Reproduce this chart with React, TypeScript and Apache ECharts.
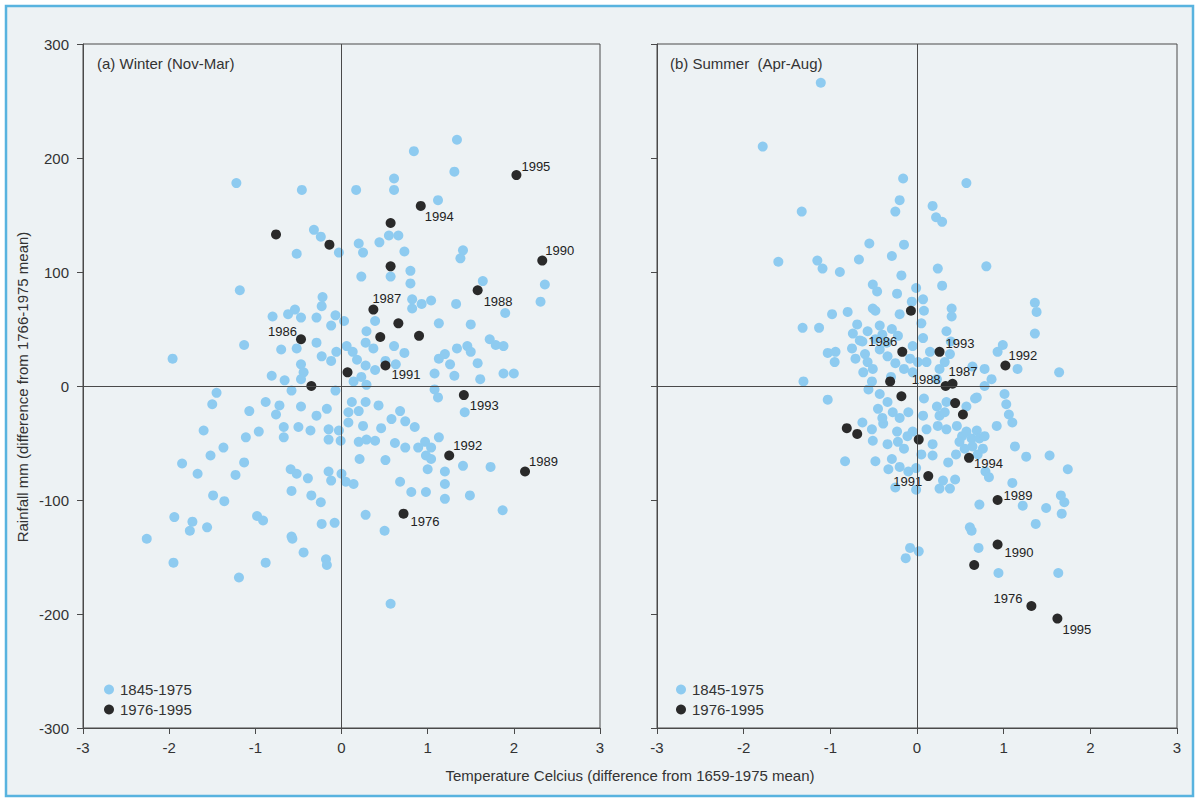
import React, { useEffect, useRef } from "react";
import * as echarts from "echarts";

// ---------- DATA ----------
const TEMP_RANGE: [number, number] = [-3, 3];
const RAIN_RANGE: [number, number] = [-300, 300];

const WINTER_1845_1975: [number, number][] = [
  [1.34, 216], [0.84, 206], [1.31, 188], [-1.22, 178], [-0.46, 172], [0.17, 172], [0.61, 182], [0.61, 172], [1.12, 163],
  [-0.32, 137], [-0.24, 131], [-0.03, 117], [-0.52, 116], [0.2, 125], [0.25, 117], [0.44, 126], [0.55, 132], [0.66, 132], [0.73, 118], [1.41, 119], [1.38, 112],
  [0.23, 96], [0.57, 96], [0.8, 101], [0.8, 90], [-1.18, 84], [-0.22, 78], [-0.23, 70], [-0.8, 61], [-0.62, 63], [-0.54, 67], [-0.47, 60], [-0.29, 60], [-0.07, 62], [0.03, 57], [-0.12, 53], [0.39, 57], [0.29, 48],
  [0.82, 76], [0.93, 72], [1.04, 75], [0.82, 68], [1.13, 55], [1.33, 72], [1.5, 54],
  [-1.13, 36], [-1.96, 24], [-0.7, 32], [-0.52, 33], [-0.29, 38], [-0.23, 26], [-0.12, 22], [-0.06, 30], [0.06, 35], [0.13, 30], [0.28, 38], [0.37, 33], [0.18, 23], [0.28, 18], [0.39, 14], [0.51, 22], [0.61, 35], [0.73, 29], [0.63, 19],
  [-0.47, 19], [-0.44, 12], [-0.81, 9], [-0.66, 5], [-0.47, 6], [0.14, 4], [0.23, 8], [0.29, 1],
  [1.13, 24], [1.2, 28], [1.26, 19], [1.34, 33], [1.08, 11], [1.31, 9], [1.46, 35], [1.5, 30],
  [1.64, 92], [2.36, 89], [2.31, 74], [1.9, 64], [1.72, 41], [1.79, 36], [1.88, 35], [1.58, 20], [1.61, 6], [1.88, 11], [2.0, 11],
  [-1.45, -6], [-1.5, -16], [-1.07, -22], [-0.88, -14], [-0.72, -17], [-0.76, -25], [-0.58, -4], [-0.47, -18], [-0.29, -26], [-0.17, -20], [-0.07, -4],
  [1.08, -3], [1.12, -10], [1.43, -23],
  [0.12, -14], [0.28, -14], [0.2, -22], [0.43, -17], [0.68, -22], [0.74, -31], [0.58, -29], [0.08, -23], [0.08, -32], [0.25, -35], [0.46, -37], [0.85, -36],
  [-1.6, -39], [-1.11, -45], [-0.96, -40], [-0.67, -36], [-0.67, -45], [-0.5, -36], [-0.36, -39], [-0.15, -38], [-0.03, -39], [-0.15, -47], [-0.01, -48],
  [0.2, -49], [0.29, -47], [0.39, -48], [0.62, -50], [0.74, -54], [0.89, -54], [0.97, -49], [1.04, -54], [0.98, -61], [1.04, -64], [1.0, -73], [1.13, -45],
  [1.2, -75], [1.2, -86], [1.2, -99], [1.41, -70], [1.49, -96], [1.73, -71], [1.87, -109],
  [-1.37, -54], [-1.52, -61], [-1.85, -68], [-1.67, -77], [-1.23, -78], [-1.13, -67],
  [-0.59, -73], [-0.52, -77], [-0.39, -81], [-0.15, -75], [-0.12, -83], [0.0, -77], [0.05, -84], [0.14, -86], [0.21, -64], [0.51, -65], [0.68, -84], [0.81, -93], [0.98, -93],
  [-0.58, -92], [-0.35, -96], [-0.24, -102], [-1.49, -96], [-1.36, -101], [-1.94, -115], [-1.73, -119], [-1.76, -127], [-1.56, -124],
  [-0.98, -114], [-0.91, -118], [-0.23, -121], [-0.08, -120], [0.28, -113], [0.5, -127], [-0.58, -132],
  [-2.26, -134], [-1.95, -155], [-1.19, -168], [-0.88, -155], [-0.57, -134], [-0.44, -146], [-0.18, -152], [-0.17, -157], [0.57, -191],
];

const WINTER_1976_1995: [number, number][] = [
  [-0.76, 133], [-0.14, 124], [0.57, 143], [0.92, 158], [2.03, 185], [2.33, 110], [0.57, 105], [1.58, 84], [0.37, 67], [0.66, 55],
  [0.45, 43], [0.9, 44], [-0.47, 41], [0.07, 12], [0.51, 18], [-0.35, 0], [1.42, -8], [1.25, -61], [2.13, -75], [0.72, -112],
];
const WINTER_YEARS: string[] = [
  "", "", "", "1994", "1995", "1990", "", "1988", "1987", "",
  "", "", "1986", "", "1991", "", "1993", "1992", "1989", "1976",
];

const SUMMER_1845_1975: [number, number][] = [
  [-1.11, 266], [-1.78, 210], [-0.16, 182], [-0.2, 163], [-0.25, 153], [-1.33, 153], [0.18, 158], [0.22, 148], [0.29, 144], [0.57, 178],
  [-0.55, 125], [-0.15, 124], [-1.6, 109], [-1.15, 110], [-1.09, 103], [-0.89, 100], [-0.67, 111], [-0.29, 114], [-0.18, 97], [0.24, 103], [0.8, 105],
  [-0.51, 89], [-0.46, 83], [-0.23, 81], [-0.01, 86], [0.29, 88],
  [-0.06, 74], [0.07, 76], [0.08, 66], [0.4, 68], [0.4, 61], [1.36, 73], [1.38, 65],
  [-0.98, 63], [-0.8, 65], [-0.51, 68], [-0.2, 63], [-0.48, 66], [-1.32, 51], [-1.13, 51], [-0.69, 54], [-0.74, 46],
  [-0.57, 48], [-0.43, 53], [-0.29, 50], [-0.22, 44], [-0.63, 39], [-0.48, 41], [0.07, 42], [0.34, 48], [0.39, 39], [1.36, 46],
  [-1.03, 29], [-0.94, 30], [-0.95, 21], [-0.71, 24], [-0.57, 21], [-0.51, 15], [-0.62, 12], [-0.52, 4], [-0.43, 32], [-0.34, 26],
  [-0.75, 33], [-0.66, 40], [-0.6, 28], [-0.4, 45], [-0.35, 38], [-0.25, 20], [-0.15, 15], [-0.3, 8], [-0.05, 35], [0.05, 55],
  [-0.08, 24], [0.01, 21], [-0.05, 12], [0.15, 30], [0.11, 21], [0.38, 28], [0.32, 21], [0.26, 15], [0.23, 6],
  [0.64, 17], [0.78, 15], [0.93, 30], [0.99, 36], [1.16, 15], [1.64, 12], [0.86, 6], [0.78, 0], [0.69, -10],
  [-1.31, 4], [-1.03, -12], [-0.56, -3], [-0.43, -7], [-0.34, -14], [-0.45, -20], [-0.28, -23], [-0.2, -28], [-0.1, -23], [0.08, -11], [0.07, -26],
  [0.23, -18], [0.26, -26], [0.34, -14], [0.32, -23], [0.67, -11], [0.57, -18], [1.01, -7], [1.03, -16], [1.06, -25], [1.1, -32], [0.92, -35],
  [-0.63, -32], [-0.52, -38], [-0.39, -33], [-0.23, -40], [-0.11, -44], [-0.22, -49], [-0.51, -48], [-0.34, -51], [-0.4, -28], [-0.05, -40],
  [-0.83, -66], [-0.48, -66], [-0.29, -64], [-0.33, -73], [-0.2, -71], [-0.1, -75], [-0.15, -55], [0.05, -60],
  [0.18, -51], [0.18, -61], [0.11, -38], [0.24, -35], [0.34, -38],
  [0.46, -35], [0.52, -44], [0.57, -40], [0.63, -46], [0.69, -39], [0.72, -46], [0.78, -44], [0.64, -53], [0.76, -55], [0.7, -60], [0.49, -49], [0.45, -60], [0.55, -55],
  [0.36, -67], [0.79, -75], [0.83, -80], [1.13, -53], [1.26, -62], [1.53, -61], [1.74, -73], [1.1, -85],
  [1.22, -105], [1.49, -107], [1.66, -96], [1.7, -102], [1.67, -112], [0.72, -104],
  [-0.25, -89], [-0.01, -91], [-0.01, -72], [0.26, -90], [0.38, -90], [0.44, -82], [0.3, -83],
  [0.61, -124], [1.37, -121], [0.63, -127], [0.71, -142], [0.94, -164], [1.63, -164], [-0.08, -142], [0.02, -145], [-0.13, -151],
];

const SUMMER_1976_1995: [number, number][] = [
  [-0.07, 66], [-0.17, 30], [0.26, 30], [1.02, 18], [-0.31, 4], [0.33, 0], [0.41, 2], [-0.18, -9], [0.44, -15], [0.53, -25],
  [-0.81, -37], [-0.69, -42], [0.02, -47], [0.6, -63], [0.13, -79], [0.93, -100], [0.93, -139], [0.66, -157], [1.32, -193], [1.62, -204],
];
const SUMMER_YEARS: string[] = [
  "", "1986", "1993", "1992", "", "1988", "1987", "", "", "",
  "", "", "", "1994", "1991", "1989", "1990", "", "1976", "1995",
];

const SERIES_NAMES = ["1845-1975", "1976-1995"];
const PANEL_TITLES = ["(a) Winter (Nov-Mar)", "(b) Summer  (Apr-Aug)"];
const X_NAME = "Temperature Celcius (difference from 1659-1975 mean)";
const Y_NAME = "Rainfall mm (difference from 1766-1975 mean)";

// ---------- STYLE ----------
const FONT = '"Liberation Sans", Arial, Helvetica, sans-serif';
const LIGHT = "#8ecbf0";
const DARK = "#2a2a2a";
const AXIS = "#4a4a4a";
const TEXT = "#333";

// label placement: [dx, dy, align] of text anchor relative to point centre
type LP = [number, number, "left" | "right"];
const WINTER_LABEL_POS: Record<string, LP> = {
  "1994": [4, 11, "left"], "1995": [5, -9, "left"], "1990": [3, -10, "left"], "1988": [6, 11, "left"],
  "1987": [-1, -11, "left"], "1991": [6, 9, "left"], "1986": [-4, -8, "right"], "1993": [6, 10, "left"],
  "1992": [4, -10, "left"], "1989": [4, -10, "left"], "1976": [7, 8, "left"],
};
const SUMMER_LABEL_POS: Record<string, LP> = {
  "1986": [-5, -10, "right"], "1993": [6, -8, "left"], "1992": [3, -10, "left"], "1987": [-4, -12, "left"],
  "1988": [-5, -7, "right"], "1994": [5, 6, "left"], "1991": [-6, 5, "right"], "1989": [6, -5, "left"],
  "1990": [7, 8, "left"], "1976": [-9, -8, "right"], "1995": [5, 11, "left"],
};

const SYM = 10;

function darkData(pts: [number, number][], years: string[], pos: Record<string, LP>) {
  return pts.map((p, i) => {
    const yr = years[i];
    const o = yr ? pos[yr] : null;
    if (!o) return { value: p, label: { show: false } };
    return {
      value: p,
      label: {
        show: true,
        formatter: yr,
        position: [SYM / 2 + o[0], SYM / 2 + o[1]],
        align: o[2],
        verticalAlign: "middle",
      },
    };
  });
}

const zeroLines = {
  silent: true,
  symbol: "none",
  label: { show: false },
  lineStyle: { color: AXIS, width: 1, type: "solid" },
  data: [{ xAxis: 0 }, { yAxis: 0 }],
};

function makeX(gridIndex: number) {
  return {
    type: "value",
    gridIndex,
    min: TEMP_RANGE[0],
    max: TEMP_RANGE[1],
    interval: 1,
    axisLine: { show: true, onZero: false, lineStyle: { color: AXIS, width: 1 } },
    axisTick: { show: true, length: 6, lineStyle: { color: AXIS } },
    splitLine: { show: false },
    axisLabel: { fontSize: 15, color: TEXT, fontFamily: FONT, margin: 12 },
  };
}
function makeY(gridIndex: number, labels: boolean) {
  return {
    type: "value",
    gridIndex,
    min: RAIN_RANGE[0],
    max: RAIN_RANGE[1],
    interval: 100,
    axisLine: { show: true, onZero: false, lineStyle: { color: AXIS, width: 1 } },
    axisTick: { show: true, length: 6, lineStyle: { color: AXIS } },
    splitLine: { show: false },
    axisLabel: { show: labels, fontSize: 15, color: TEXT, fontFamily: FONT, margin: 14 },
  };
}

export default function App() {
  const ref = useRef<HTMLDivElement>(null);
  useEffect(() => {
    document.body.style.margin = "0";
    if (!ref.current) return;
    const chart = echarts.init(ref.current, null, { renderer: "svg" });
    const gridBase = { show: true, borderColor: AXIS, borderWidth: 1, backgroundColor: "transparent", containLabel: false };
    const lightSeries = (xi: number, data: [number, number][]) => ({
      name: SERIES_NAMES[0],
      type: "scatter",
      xAxisIndex: xi,
      yAxisIndex: xi,
      symbol: "circle",
      symbolSize: SYM,
      itemStyle: { color: LIGHT, opacity: 1 },
      data,
      markLine: zeroLines,
      z: 2,
    });
    const darkSeries = (xi: number, data: any[]) => ({
      name: SERIES_NAMES[1],
      type: "scatter",
      xAxisIndex: xi,
      yAxisIndex: xi,
      symbol: "circle",
      symbolSize: SYM,
      itemStyle: { color: DARK, opacity: 1 },
      label: { fontSize: 13, color: "#222", fontFamily: FONT },
      data,
      z: 3,
    });
    const legendBase = {
      orient: "vertical",
      top: 677,
      itemWidth: 12,
      itemHeight: 10,
      itemGap: 5,
      icon: "circle",
      data: SERIES_NAMES,
      textStyle: { fontSize: 15, color: TEXT, fontFamily: FONT },
      selectedMode: false,
    };
    chart.setOption({
      animation: false,
      backgroundColor: "#ffffff",
      textStyle: { fontFamily: FONT },
      grid: [
        { ...gridBase, left: 83, top: 44, width: 517, height: 684 },
        { ...gridBase, left: 657, top: 44, width: 520, height: 684 },
      ],
      xAxis: [makeX(0), makeX(1)],
      yAxis: [makeY(0, true), makeY(1, false)],
      legend: [
        { ...legendBase, left: 99 },
        { ...legendBase, left: 671 },
      ],
      graphic: [
        {
          type: "rect",
          z: -100,
          shape: { x: 6, y: 6, width: 1187, height: 790 },
          style: { fill: "#edf2f4", stroke: "#58b3df", lineWidth: 2.5 },
          silent: true,
        },
        {
          type: "text",
          x: 97,
          y: 63,
          style: { text: PANEL_TITLES[0], fontSize: 15, fontFamily: FONT, fill: TEXT, align: "left", verticalAlign: "middle", textAlign: "left", textVerticalAlign: "middle" },
        },
        {
          type: "text",
          x: 670,
          y: 63,
          style: { text: PANEL_TITLES[1], fontSize: 15, fontFamily: FONT, fill: TEXT, align: "left", verticalAlign: "middle", textAlign: "left", textVerticalAlign: "middle" },
        },
        {
          type: "text",
          x: 630,
          y: 775,
          style: { text: X_NAME, fontSize: 15, fontFamily: FONT, fill: TEXT, align: "center", verticalAlign: "middle", textAlign: "center", textVerticalAlign: "middle" },
        },
        {
          type: "text",
          x: 22,
          y: 387,
          rotation: Math.PI / 2,
          style: { text: Y_NAME, fontSize: 15, fontFamily: FONT, fill: TEXT, align: "center", verticalAlign: "middle", textAlign: "center", textVerticalAlign: "middle" },
        },
      ],
      series: [
        lightSeries(0, WINTER_1845_1975),
        darkSeries(0, darkData(WINTER_1976_1995, WINTER_YEARS, WINTER_LABEL_POS)),
        lightSeries(1, SUMMER_1845_1975),
        darkSeries(1, darkData(SUMMER_1976_1995, SUMMER_YEARS, SUMMER_LABEL_POS)),
      ],
    });
    return () => chart.dispose();
  }, []);
  return <div ref={ref} style={{ width: 1198, height: 800 }} />;
}
